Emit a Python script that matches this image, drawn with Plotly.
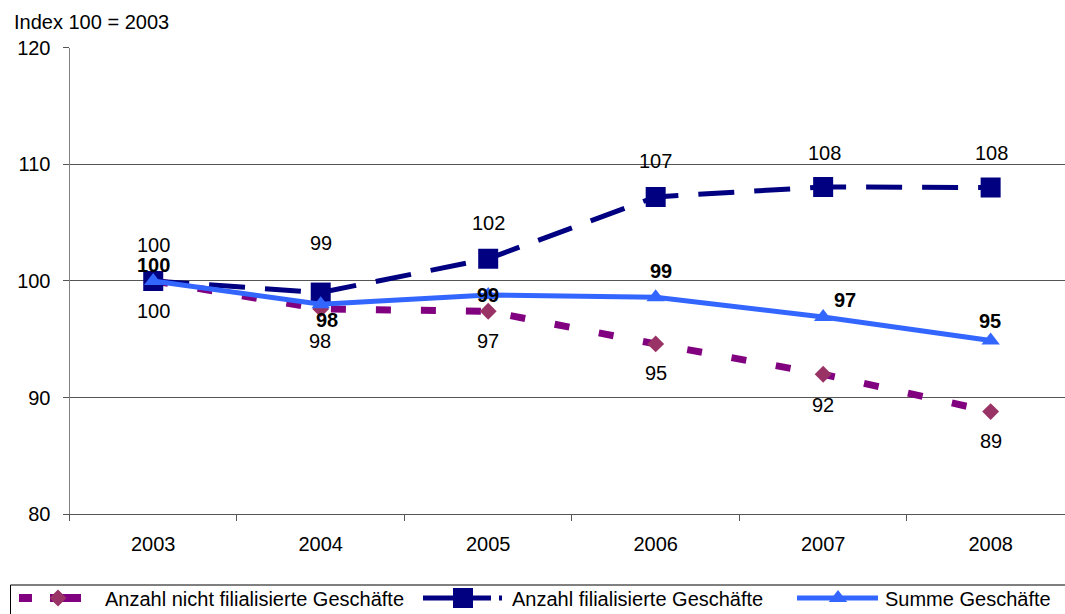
import plotly.graph_objects as go

# Index values (2003 = 100)
years = ["2003", "2004", "2005", "2006", "2007", "2008"]
nicht_filialisiert = [100, 97.6, 97.4, 94.6, 92.0, 88.8]
filialisiert = [100, 99.0, 101.9, 107.2, 108.05, 108.0]
summe = [100, 98.0, 98.8, 98.6, 96.9, 94.9]
y_ticks = [80, 90, 100, 110, 120]

names = [
    "Anzahl nicht filialisierte Geschäfte",
    "Anzahl filialisierte Geschäfte",
    "Summe Geschäfte",
]

W, H = 1065, 614
FONT = "Arial, 'Liberation Sans', sans-serif"
FS = 20

PURPLE = "#800080"
PURPLE_MARK = "#993366"
NAVY = "#000080"
LIGHT = "#3366FF"

# Label offsets in px (dx, dy), dy positive = upwards
off_nf = [(0, -30), (-1, -32), (0, -30), (0, -29), (0, -31), (0, -29)]
off_f = [(0, 36), (0, 50), (0, 36), (0, 36), (1, 34), (1, 35)]
off_s = [(0, 16), (6, -16), (0, 0), (5, 26), (22, 17), (-1, 19)]

# plot area in pixels
PL, PR, PT, PB = 69.5, 1065, 47.5, 514.3


def px(x):
    return x / W


def py(y):
    return 1 - y / H


fig = go.Figure()

fig.add_trace(go.Scatter(
    x=years, y=nicht_filialisiert, name=names[0], mode="lines+markers",
    line=dict(color=PURPLE, width=7, dash="15px,30px"),
    marker=dict(symbol="diamond", size=13, color=PURPLE_MARK),
    showlegend=False,
))
fig.add_trace(go.Scatter(
    x=years, y=filialisiert, name=names[1], mode="lines+markers",
    line=dict(color=NAVY, width=5, dash="36px,20px"),
    marker=dict(symbol="square", size=20, color=NAVY),
    showlegend=False,
))
fig.add_trace(go.Scatter(
    x=years, y=summe, name=names[2], mode="lines+markers",
    line=dict(color=LIGHT, width=5),
    marker=dict(symbol="triangle-up", size=16, color=LIGHT),
    showlegend=False,
))

annotations = []


def add_labels(values, offsets, bold):
    # category positions are addressed by index on the category axis
    for i, (v, (dx, dy)) in enumerate(zip(values, offsets)):
        txt = f"{round(v)}"
        if bold:
            txt = f"<b>{txt}</b>"
        annotations.append(dict(
            x=i, y=v, xref="x", yref="y", text=txt, showarrow=False,
            xshift=dx, yshift=dy, font=dict(family=FONT, size=FS, color="black"),
            xanchor="center", yanchor="middle",
        ))


add_labels(nicht_filialisiert, off_nf, False)
add_labels(filialisiert, off_f, False)
add_labels(summe, off_s, True)

annotations.append(dict(
    x=px(12), y=py(22), xref="paper", yref="paper", text="Index 100 = 2003",
    showarrow=False, xanchor="left", yanchor="middle",
    font=dict(family=FONT, size=FS, color="black"),
))

# Legend: drawn on a full-canvas pixel axis pair
leg_y = 598
fig.add_trace(go.Scatter(
    x=[19, 81], y=[leg_y, leg_y], xaxis="x2", yaxis="y2", mode="lines",
    line=dict(color=PURPLE, width=8, dash="13px,18px,31px,200px"),
    showlegend=False, hoverinfo="skip",
))
fig.add_trace(go.Scatter(
    x=[58], y=[leg_y], xaxis="x2", yaxis="y2", mode="markers",
    marker=dict(symbol="diamond", size=13, color=PURPLE_MARK),
    showlegend=False, hoverinfo="skip",
))
fig.add_trace(go.Scatter(
    x=[423, 502], y=[leg_y, leg_y], xaxis="x2", yaxis="y2", mode="lines",
    line=dict(color=NAVY, width=5, dash="30px,8px"),
    showlegend=False, hoverinfo="skip",
))
fig.add_trace(go.Scatter(
    x=[463], y=[leg_y], xaxis="x2", yaxis="y2", mode="markers",
    marker=dict(symbol="square", size=20, color=NAVY),
    showlegend=False, hoverinfo="skip",
))
fig.add_trace(go.Scatter(
    x=[797, 878], y=[leg_y, leg_y], xaxis="x2", yaxis="y2", mode="lines",
    line=dict(color=LIGHT, width=5),
    showlegend=False, hoverinfo="skip",
))
fig.add_trace(go.Scatter(
    x=[838], y=[leg_y], xaxis="x2", yaxis="y2", mode="markers",
    marker=dict(symbol="triangle-up", size=16, color=LIGHT),
    showlegend=False, hoverinfo="skip",
))

for x0, name in zip([103, 510, 883], names):
    annotations.append(dict(
        x=x0, y=leg_y + 1, xref="x2", yref="y2", text=name, showarrow=False,
        xanchor="left", yanchor="middle",
        font=dict(family=FONT, size=FS, color="black"),
    ))

shapes = [dict(
    type="rect", xref="paper", yref="paper",
    x0=px(10.5), x1=px(1075), y0=py(585), y1=py(625),
    line=dict(color="black", width=1), fillcolor="rgba(0,0,0,0)",
)]

fig.update_layout(
    width=W, height=H,
    margin=dict(l=0, r=0, t=0, b=0),
    paper_bgcolor="white",
    plot_bgcolor="rgba(0,0,0,0)",
    font=dict(family=FONT, size=FS, color="black"),
    annotations=annotations,
    shapes=shapes,
    xaxis=dict(
        domain=[px(PL), px(PR)],
        type="category", range=[-0.5, 5.444],
        tickson="boundaries", ticks="outside", ticklen=6, tickcolor="#555555",
        showline=True, linecolor="#555555", linewidth=1,
        showgrid=False, zeroline=False,
        ticklabelstandoff=12,
        tickfont=dict(family=FONT, size=FS, color="black"),
        automargin=False, fixedrange=True,
    ),
    yaxis=dict(
        domain=[py(PB), py(PT)],
        range=[80, 120], tickvals=y_ticks,
        ticks="outside", ticklen=6, tickcolor="#555555",
        showline=True, linecolor="#808080", linewidth=1,
        showgrid=True, gridcolor="#555555", gridwidth=1,
        zeroline=False,
        ticklabelstandoff=8,
        tickfont=dict(family=FONT, size=FS, color="black"),
        automargin=False, fixedrange=True,
    ),
    xaxis2=dict(domain=[0, 1], range=[0, W], visible=False, fixedrange=True,
                anchor="y2"),
    yaxis2=dict(domain=[0, 1], range=[H, 0], visible=False, fixedrange=True,
                anchor="x2"),
)

fig.write_html("out.html")
